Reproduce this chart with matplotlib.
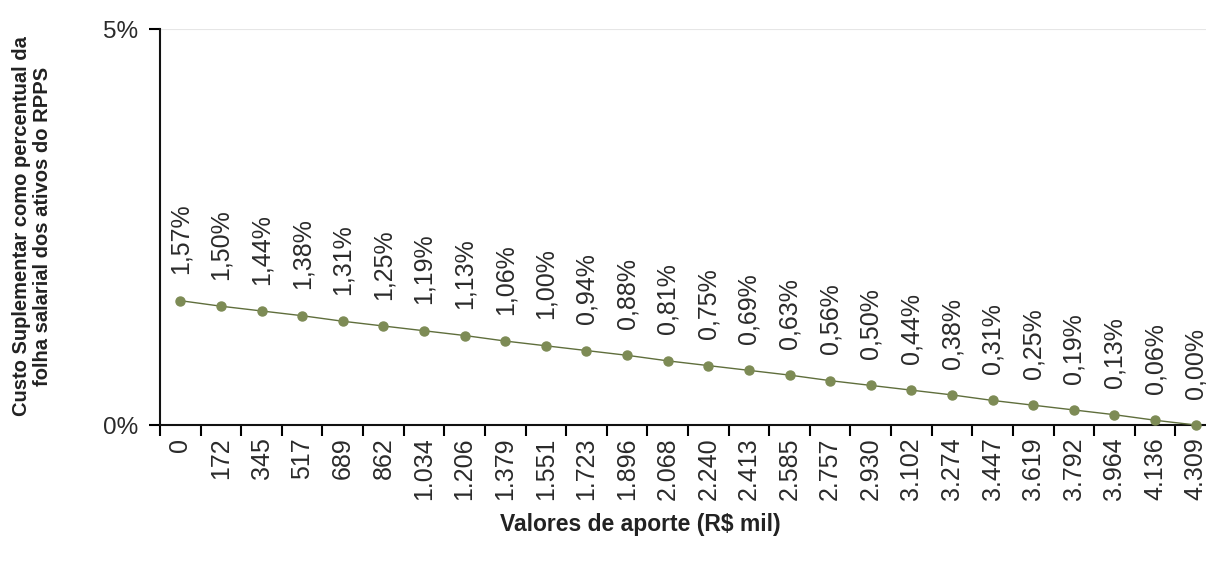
import matplotlib
matplotlib.use("Agg")
import matplotlib.pyplot as plt
import numpy as np

categories = ["0", "172", "345", "517", "689", "862", "1.034", "1.206", "1.379",
              "1.551", "1.723", "1.896", "2.068", "2.240", "2.413", "2.585",
              "2.757", "2.930", "3.102", "3.274", "3.447", "3.619", "3.792",
              "3.964", "4.136", "4.309"]
values = [1.57, 1.50, 1.44, 1.38, 1.31, 1.25, 1.19, 1.13, 1.06, 1.00, 0.94, 0.88,
          0.81, 0.75, 0.69, 0.63, 0.56, 0.50, 0.44, 0.38, 0.31, 0.25, 0.19, 0.13,
          0.06, 0.00]
y_ticks = [0, 5]
y_tick_labels = ["0%", "5%"]

plt.rcParams['font.family'] = ['Liberation Sans', 'DejaVu Sans']

W, H = 1206, 562
fig = plt.figure(figsize=(W / 100, H / 100), dpi=100)
x0, x1 = 160, 1216
y_top, y_bot = 29, 425
ax = fig.add_axes([x0 / W, 1 - y_bot / H, (x1 - x0) / W, (y_bot - y_top) / H])

x = np.arange(len(categories))
ax.plot(x, values, color="#5f6e3c", lw=1.0, zorder=3, clip_on=False)
ax.plot(x, values, ls="none", marker="o", ms=6.5, mfc="#7d8b55", mec="#7d8b55",
        zorder=4, clip_on=False)

for xi, v in zip(x, values):
    ax.annotate(f"{v:.2f}%".replace(".", ","), (xi, v), xytext=(0, 19),
                textcoords="offset points", rotation=90, ha="center", va="bottom",
                fontsize=18, color="#2a2a2a")

ax.set_xlim(-0.5, len(categories) - 0.5)
ax.set_ylim(0, 5)
ax.set_yticks(y_ticks)
ax.set_yticklabels(y_tick_labels, fontsize=17.5, color="#2a2a2a")
ax.set_xticks(x)
ax.set_xticklabels(categories, rotation=90, fontsize=18, color="#2a2a2a",
                   va="top", ha="center")
ax.set_xticks(np.arange(len(categories)) - 0.5, minor=True)
ax.tick_params(axis="x", which="major", length=0, pad=9)
ax.tick_params(axis="x", which="minor", length=8, width=1.5, direction="out")
ax.tick_params(axis="y", length=8, width=1.5, direction="out", pad=8)

ax.axhline(5, color="#e6e6e6", lw=1.5, zorder=0)
for s in ["top", "right"]:
    ax.spines[s].set_visible(False)
for s in ["left", "bottom"]:
    ax.spines[s].set_linewidth(1.5)
    ax.spines[s].set_color("#111111")

fig.text(640 / W, 1 - 525 / H, "Valores de aporte (R$ mil)", ha="center",
         va="center", fontsize=16.5, fontweight="bold", color="#222222")
fig.text(32 / W, 1 - 226 / H,
         "Custo Suplementar como percentual da\nfolha salarial dos ativos do RPPS",
         ha="center", va="center", rotation=90, fontsize=14.5, fontweight="bold",
         color="#222222", linespacing=1.15)

fig.savefig("out.png", dpi=100)
